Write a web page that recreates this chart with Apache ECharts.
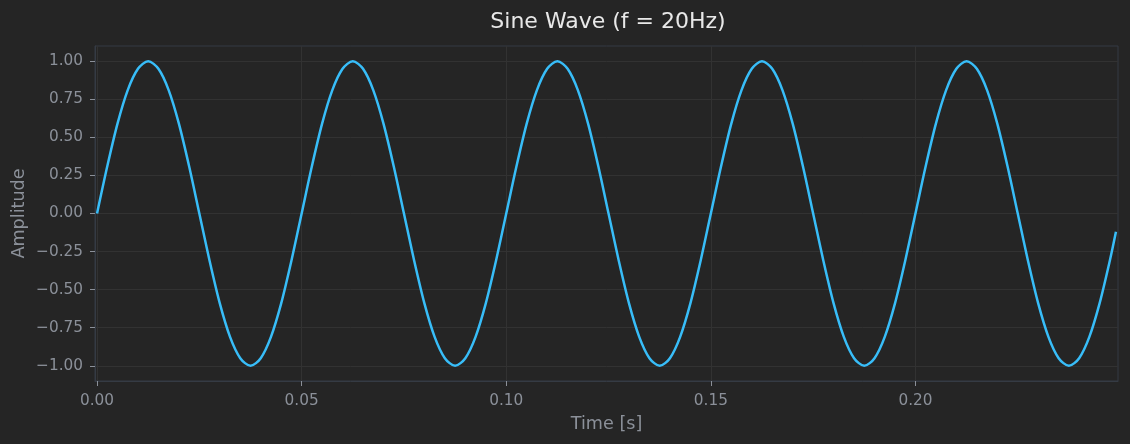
<!DOCTYPE html>
<html>
<head>
<meta charset="utf-8">
<script src="https://cdn.jsdelivr.net/npm/echarts@6/dist/echarts.min.js"></script>
<style>
  html, body { margin: 0; padding: 0; background: #252525; }
  #chart { width: 1130px; height: 444px; }
</style>
</head>
<body>
<div id="chart"></div>
<script>
// time samples (s), read every 1/20 of a period off the curve
var times = [
  0, 0.0025, 0.005, 0.0075, 0.01, 0.0125, 0.015, 0.0175, 0.02, 0.0225,
  0.025, 0.0275, 0.03, 0.0325, 0.035, 0.0375, 0.04, 0.0425, 0.045, 0.0475,
  0.05, 0.0525, 0.055, 0.0575, 0.06, 0.0625, 0.065, 0.0675, 0.07, 0.0725,
  0.075, 0.0775, 0.08, 0.0825, 0.085, 0.0875, 0.09, 0.0925, 0.095, 0.0975,
  0.1, 0.1025, 0.105, 0.1075, 0.11, 0.1125, 0.115, 0.1175, 0.12, 0.1225,
  0.125, 0.1275, 0.13, 0.1325, 0.135, 0.1375, 0.14, 0.1425, 0.145, 0.1475,
  0.15, 0.1525, 0.155, 0.1575, 0.16, 0.1625, 0.165, 0.1675, 0.17, 0.1725,
  0.175, 0.1775, 0.18, 0.1825, 0.185, 0.1875, 0.19, 0.1925, 0.195, 0.1975,
  0.2, 0.2025, 0.205, 0.2075, 0.21, 0.2125, 0.215, 0.2175, 0.22, 0.2225,
  0.225, 0.2275, 0.23, 0.2325, 0.235, 0.2375, 0.24, 0.2425, 0.245, 0.2475,
  0.249
]
var amplitude = [
  0, 0.31, 0.59, 0.81, 0.95, 1.00, 0.95, 0.81, 0.59, 0.31,
  0, -0.31, -0.59, -0.81, -0.95, -1.00, -0.95, -0.81, -0.59, -0.31,
  0, 0.31, 0.59, 0.81, 0.95, 1.00, 0.95, 0.81, 0.59, 0.31,
  0, -0.31, -0.59, -0.81, -0.95, -1.00, -0.95, -0.81, -0.59, -0.31,
  0, 0.31, 0.59, 0.81, 0.95, 1.00, 0.95, 0.81, 0.59, 0.31,
  0, -0.31, -0.59, -0.81, -0.95, -1.00, -0.95, -0.81, -0.59, -0.31,
  0, 0.31, 0.59, 0.81, 0.95, 1.00, 0.95, 0.81, 0.59, 0.31,
  0, -0.31, -0.59, -0.81, -0.95, -1.00, -0.95, -0.81, -0.59, -0.31,
  0, 0.31, 0.59, 0.81, 0.95, 1.00, 0.95, 0.81, 0.59, 0.31,
  0, -0.31, -0.59, -0.81, -0.95, -1.00, -0.95, -0.81, -0.59, -0.31,
  -0.12
]
var xTicks = [0, 0.05, 0.10, 0.15, 0.20]
var yTicks = [-1, -0.75, -0.5, -0.25, 0, 0.25, 0.5, 0.75, 1]

var textColor = '#8b9099'
var gridColor = '#323232'
var spineColor = '#353b44'

var pts = []
times.forEach(function(t, i) {
  pts.push([t, amplitude[i]])
})

var myChart = echarts.init(document.getElementById('chart'))
var option = {
  backgroundColor: '#252525',
  animation: false,
  title: {
    text: 'Sine Wave (f = 20Hz)',
    left: 603,
    top: 6,
    textAlign: 'center',
    textStyle: { color: '#e8e8e8', fontSize: 22, fontWeight: 'normal', fontFamily: 'DejaVu Sans' }
  },
  grid: {
    left: 95, right: 12, top: 46, bottom: 63,
    outerBoundsMode: 'none',
    containLabel: false,
    show: true, borderColor: spineColor, borderWidth: 1, backgroundColor: 'transparent'
  },
  xAxis: {
    type: 'value',
    min: -0.0005,
    max: 0.2495,
    name: 'Time [s]',
    nameLocation: 'middle',
    nameGap: 34,
    nameMoveOverlap: false,
    nameTextStyle: { color: textColor, fontSize: 17.6, fontFamily: 'DejaVu Sans' },
    axisLine: { show: true, onZero: false, lineStyle: { color: spineColor } },
    axisTick: { show: true, customValues: xTicks, length: 5, lineStyle: { color: textColor } },
    axisLabel: {
      customValues: xTicks, color: textColor, fontSize: 15.3, fontFamily: 'DejaVu Sans', margin: 13,
      formatter: function(v) { return v.toFixed(2) }
    },
    splitLine: { show: true, lineStyle: { color: gridColor } }
  },
  yAxis: {
    type: 'value',
    min: -1.1,
    max: 1.1,
    name: 'Amplitude',
    nameLocation: 'middle',
    nameGap: 67,
    nameMoveOverlap: false,
    nameTextStyle: { color: textColor, fontSize: 17.6, fontFamily: 'DejaVu Sans' },
    axisLine: { show: true, onZero: false, lineStyle: { color: spineColor } },
    axisTick: { show: true, customValues: yTicks, length: 5, lineStyle: { color: textColor } },
    axisLabel: {
      customValues: yTicks, color: textColor, fontSize: 15.3, fontFamily: 'DejaVu Sans', margin: 12,
      formatter: function(v) {
        var s = Math.abs(v).toFixed(2)
        return v < 0 ? '\u2212' + s : s
      }
    },
    splitLine: { show: true, lineStyle: { color: gridColor } }
  },
  series: [{
    type: 'line',
    data: pts,
    smooth: 0.3,
    showSymbol: false,
    lineStyle: { color: '#38bdf8', width: 2.5 }
  }]
}
myChart.setOption(option)
</script>
</body>
</html>
